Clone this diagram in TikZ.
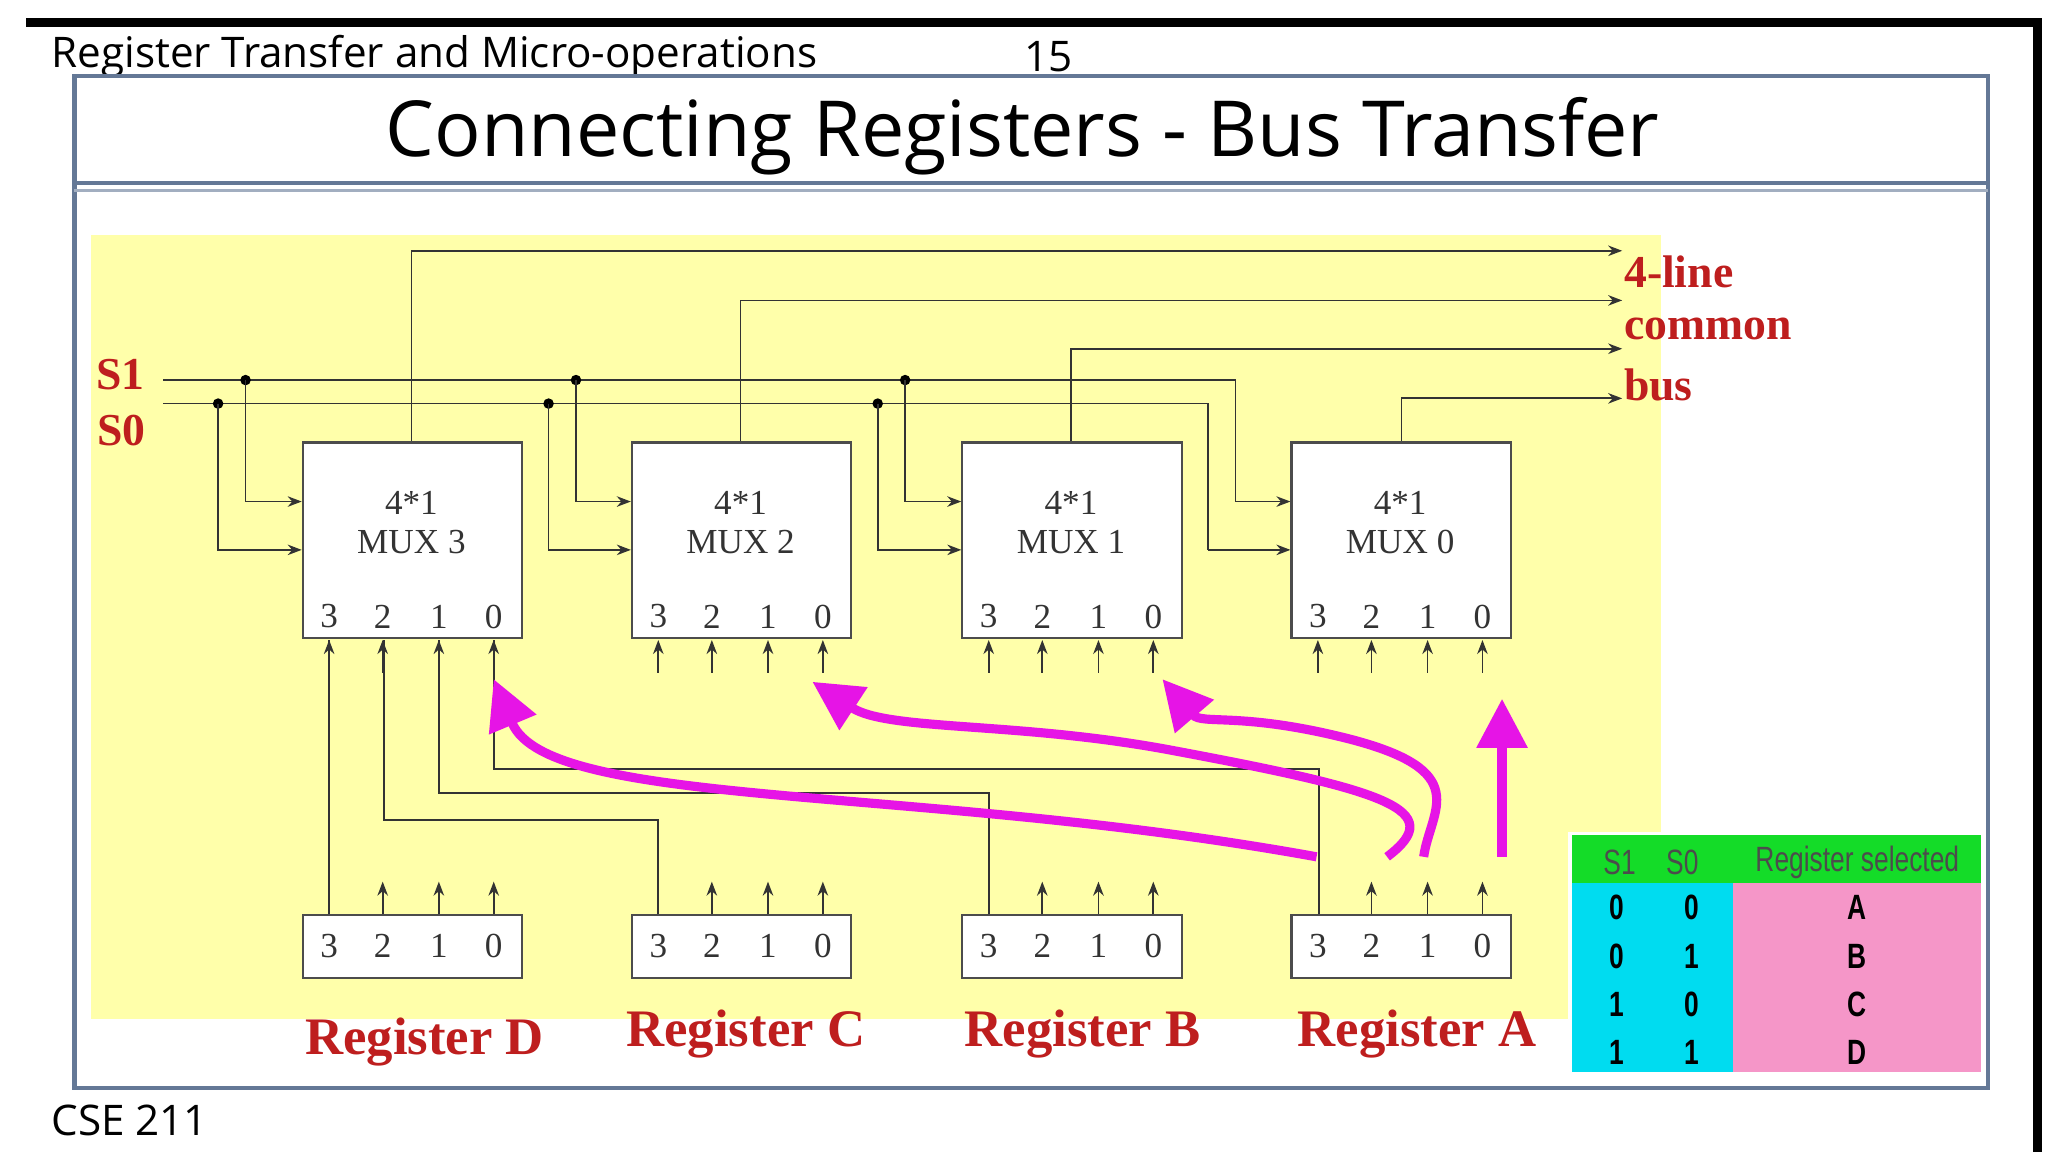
\documentclass[tikz,border=0pt]{standalone}
\usepackage{fontspec}
\setmainfont{Liberation Serif}
\newfontfamily\hdr{Open Sans}
\newfontfamily\tbl{Liberation Sans}[FakeStretch=0.75]
\usetikzlibrary{arrows.meta}
\definecolor{yel}{RGB}{255,255,170}
\definecolor{dred}{RGB}{190,30,30}
\definecolor{mag}{RGB}{230,20,230}
\definecolor{frm}{RGB}{100,120,150}
\definecolor{tgreen}{RGB}{20,220,40}
\definecolor{tcyan}{RGB}{0,220,240}
\definecolor{tpink}{RGB}{245,150,200}
\begin{document}
\begin{tikzpicture}[x=0.013061cm,y=-0.013061cm,
  box/.style={draw=black!70,fill=white,line width=0.6pt},
  wire/.style={draw=black!80,line width=0.5pt},
  arr/.style={wire,-{Stealth[length=4pt,width=3pt]}},
  dot/.style={circle,fill=black,inner sep=0pt,minimum size=3pt},
  lbl/.style={font=\fontsize{10}{11}\selectfont,text=black!80},
  red/.style={text=dred,font=\bfseries\fontsize{13}{15}\selectfont},
  big/.style={mag,line width=2.6pt,-{Triangle[length=14pt,width=14pt]}}]
\useasboundingbox (0,0) rectangle (1568,882);
\fill[white] (0,0) rectangle (1568,882);
% outer lines
\draw[line width=2.5pt] (20,17) -- (1560,17) -- (1560,882);
\node[anchor=west,font=\hdr\fontsize{12}{14}\selectfont] (hd) at (30,43) {Register Transfer and Micro-operations};
\node[font=\hdr\fontsize{12}{14}\selectfont] (pg) at (803,43) {15};
\node[anchor=west,font=\hdr\fontsize{12}{14}\selectfont] (cse) at (30,858) {CSE 211};
\draw[frm,line width=1.2pt] (57,58) rectangle (1522,833);
\node[font=\hdr\fontsize{22}{26}\selectfont] (title) at (783,104) {Connecting Registers - Bus Transfer};
\draw[frm,line width=1pt] (57,140) -- (1522,140);
\draw[frm!60,line width=1pt] (57,146) -- (1522,146);
% yellow
\fill[yel] (70,180) rectangle (1272,780);
% labels S1 S0
\node[red] (s1) at (92,287) {S1};
\node[red] (s0) at (93,330) {S0};
\draw[wire] (125,291) -- (946,291) -- (946,384);
\draw[wire] (125,309) -- (925,309) -- (925,421);
\draw[arr] (946,384) -- (988,384);
\draw[arr] (925,421) -- (988,421);
% muxes
\foreach \x/\n/\i in {231/3/0,483/2/1,736/1/2,988/0/3}{
  \node[box,minimum width=168*0.013061cm,minimum height=150*0.013061cm,anchor=north west] (m\n) at (\x,338) {};
  \node[lbl,align=center] at (\x+84,400) {4*1\\MUX \n};
  \foreach \k/\d in {3/21,2/62,1/105,0/147}{
    \node[lbl] (mi\n\k) at (\x+\d,472) {\k};
    \draw[arr] (\x+\d,515) -- (\x+\d,490);
  }
  \node[box,minimum width=168*0.013061cm,minimum height=48*0.013061cm,anchor=north west] (r\n) at (\x,700) {};
  \foreach \k/\d in {3/21,2/62,1/105,0/147}{
    \node[lbl] at (\x+\d,724) {\k};
  }
  \foreach \d in {62,105,147}{ \draw[arr] (\x+\d,700) -- (\x+\d,675); }
}
% select branches
\foreach \a/\b/\x in {188/167/231,441/420/483,693/672/736}{
  \node[dot] at (\a,291) {}; \node[dot] at (\b,309) {};
  \draw[arr] (\a,291) -- (\a,384) -- (\x,384);
  \draw[arr] (\b,309) -- (\b,421) -- (\x,421);
}
% bus
\draw[arr] (315,338) -- (315,192) -- (1242,192);
\draw[arr] (567,338) -- (567,230) -- (1242,230);
\draw[arr] (820,338) -- (820,267) -- (1242,267);
\draw[arr] (1073,338) -- (1073,305) -- (1242,305);
\node[red,anchor=west] (b1) at (1234,208) {4-line};
\node[red,anchor=west] (b2) at (1234,252) {common};
\node[red,anchor=west] (b3) at (1234,295) {bus};
% bit-3 wiring
\draw[wire] (252,700) -- (252,490);
\draw[wire] (504,700) -- (504,628) -- (294,628) -- (294,490);
\draw[wire] (757,700) -- (757,607) -- (336,607) -- (336,490);
\draw[wire] (1010,700) -- (1010,589) -- (378,589) -- (378,490);
% register labels
\node[red,font=\bfseries\fontsize{15}{17}\selectfont] (ld) at (325,798) {Register D};
\node[red,font=\bfseries\fontsize{15}{17}\selectfont] (lc) at (571,792) {Register C};
\node[red,font=\bfseries\fontsize{15}{17}\selectfont] (lb) at (829,792) {Register B};
\node[red,font=\bfseries\fontsize{15}{17}\selectfont] (la) at (1085,792) {Register A};
% magenta arrows
\draw[big] (1008,656) .. controls (700,600) and (420,620) .. (378,520);
\draw[big] (1062,656) .. controls (1110,620) and (1060,605) .. (900,575) .. controls (780,552) and (680,560) .. (622,522);
\draw[big] (1090,656) .. controls (1095,620) and (1130,590) .. (1030,565) .. controls (950,545) and (920,555) .. (890,520);
\draw[big] (1150,656) -- (1150,535);
% table
\fill[tgreen] (1202,638) rectangle (1518,676);
\fill[tcyan] (1202,676) rectangle (1327,822);
\fill[tpink] (1327,676) rectangle (1518,822);
\draw[white,line width=1pt] (1202,638) rectangle (1518,822);
\node[font=\tbl\fontsize{10}{11}\selectfont,text=black!70] (t1) at (1240,660) {S1};
\node[font=\tbl\fontsize{10}{11}\selectfont,text=black!70] (t2) at (1288,660) {S0};
\node[font=\tbl\fontsize{10}{11}\selectfont,text=black!70] (t3) at (1422,660) {Register selected};
\foreach \y/\p/\q/\r in {695/0/0/A,732/0/1/B,769/1/0/C,806/1/1/D}{
  \node[font=\tbl\bfseries\fontsize{10}{11}\selectfont] at (1238,\y) {\p};
  \node[font=\tbl\bfseries\fontsize{10}{11}\selectfont] at (1295,\y) {\q};
  \node[font=\tbl\bfseries\fontsize{10}{11}\selectfont] at (1422,\y) {\r};
}
\end{tikzpicture}
\end{document}
